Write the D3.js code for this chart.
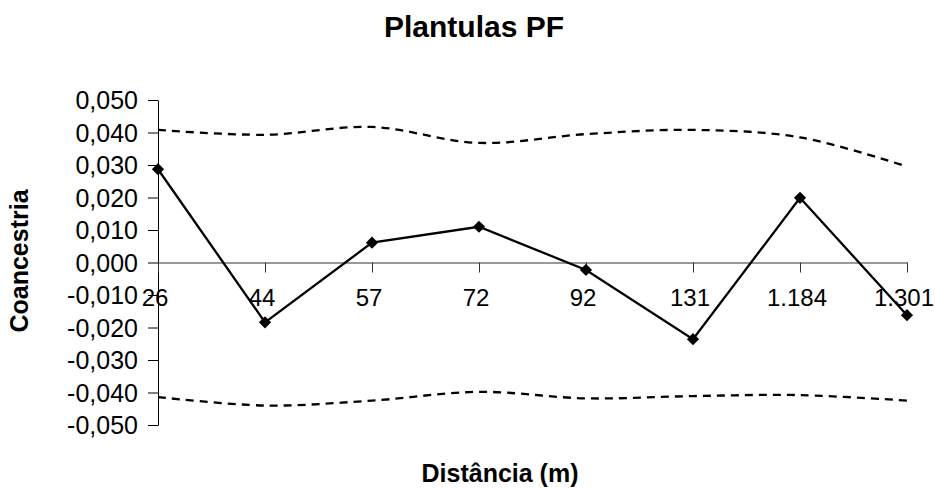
<!DOCTYPE html>
<html>
<head>
<meta charset="utf-8">
<script src="https://cdn.jsdelivr.net/npm/d3@7"></script>
<style>
  html, body { margin: 0; padding: 0; background: #fff; }
  svg { display: block; font-family: "Liberation Sans", Arial, sans-serif; }
</style>
</head>
<body>
<svg id="chart" width="935" height="488"></svg>
<script>
// Distance classes (m) and coancestry estimates
const categories = ["26", "44", "57", "72", "92", "131", "1.184", "1.301"];
const coancestry = [0.0287, -0.0184, 0.0061, 0.0110, -0.0023, -0.0236, 0.0199, -0.0162];
// 95% confidence envelope
const upperLimit = [0.0408, 0.0393, 0.0417, 0.0368, 0.0395, 0.0408, 0.0385, 0.0295];
const lowerLimit = [-0.0414, -0.0440, -0.0425, -0.0398, -0.0418, -0.0411, -0.0408, -0.0425];
const yTicks = [0.05, 0.04, 0.03, 0.02, 0.01, 0, -0.01, -0.02, -0.03, -0.04, -0.05];

const svg = d3.select("#chart");
const plot = { left: 158, right: 907, top: 100, bottom: 425 };
const FONT = "Liberation Sans, Arial, sans-serif";

const x = d3.scalePoint().domain(categories).range([plot.left, plot.right]);
const y = d3.scaleLinear().domain([-0.05, 0.05]).range([plot.bottom, plot.top]);

const fmt = v => d3.format(".3f")(Math.abs(v) < 1e-9 ? 0 : v).replace("−", "-").replace(".", ",");

// Y axis
const yAxis = d3.axisLeft(y).tickValues(yTicks).tickSize(10).tickSizeOuter(0).tickFormat(fmt);
const gy = svg.append("g").attr("transform", `translate(${plot.left},0)`).call(yAxis);
gy.attr("font-size", null).attr("font-family", null);
gy.select(".domain").attr("stroke", "#000").attr("stroke-width", 1);
gy.selectAll(".tick line").attr("stroke", "#000");
gy.selectAll(".tick text")
  .attr("x", -20).attr("dy", "0.35em")
  .style("font-size", "25px").attr("fill", "#000")
  .style("font-family", FONT);

// X axis along zero
const xAxis = d3.axisBottom(x).tickSize(10).tickSizeOuter(0);
const gx = svg.append("g").attr("transform", `translate(0,${y(0)})`).call(xAxis);
gx.attr("font-size", null).attr("font-family", null);
gx.select(".domain").attr("stroke", "#777").attr("stroke-width", 1.3);
gx.selectAll(".tick line").attr("stroke", "#333");
gx.selectAll(".tick text")
  .attr("y", 43).attr("dy", 0).attr("dx", -3.5)
  .style("font-size", "24px").attr("fill", "#000")
  .style("font-family", FONT);

// Confidence envelope (smoothed dashed lines)
const smooth = d3.line()
  .x((d, i) => x(categories[i]))
  .y(d => y(d))
  .curve(d3.curveCatmullRom.alpha(0.5));

[upperLimit, lowerLimit].forEach(series => {
  svg.append("path")
    .attr("d", smooth(series))
    .attr("fill", "none")
    .attr("stroke", "#000")
    .attr("stroke-width", 2.3)
    .attr("stroke-dasharray", "8,6");
});

// Observed coancestry
const line = d3.line().x((d, i) => x(categories[i])).y(d => y(d));
svg.append("path")
  .attr("d", line(coancestry))
  .attr("fill", "none")
  .attr("stroke", "#000")
  .attr("stroke-width", 2.3);

svg.selectAll(".marker")
  .data(coancestry)
  .enter().append("path")
  .attr("class", "marker")
  .attr("d", d3.symbol().type(d3.symbolDiamond2).size(95))
  .attr("transform", (d, i) => `translate(${x(categories[i])},${y(d)})`)
  .attr("fill", "#000");

// Titles
svg.append("text")
  .attr("x", 474).attr("y", 37)
  .attr("text-anchor", "middle")
  .style("font-size", "30px").attr("font-weight", "bold")
  .text("Plantulas PF");

svg.append("text")
  .attr("x", 500).attr("y", 482)
  .attr("text-anchor", "middle")
  .style("font-size", "25px").attr("font-weight", "bold")
  .text("Distância (m)");

svg.append("text")
  .attr("transform", "translate(28,261) rotate(-90)")
  .attr("text-anchor", "middle")
  .style("font-size", "25px").attr("font-weight", "bold")
  .text("Coancestria");
</script>
</body>
</html>
